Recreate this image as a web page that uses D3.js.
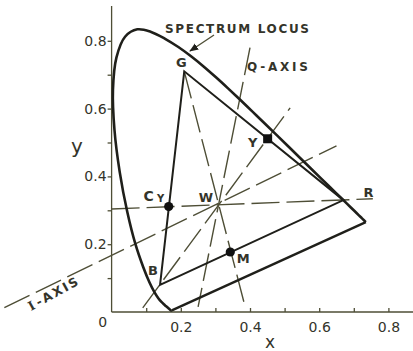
<!DOCTYPE html>
<html>
<head>
<meta charset="utf-8">
<script src="https://cdn.jsdelivr.net/npm/d3@7"></script>
<style>
  html, body { margin: 0; padding: 0; background: #fff; }
  svg { display: block; }
  text { font-family: "DejaVu Sans", sans-serif; fill: #34342a; }
</style>
</head>
<body>
<svg id="chart" width="413" height="351"></svg>
<script>
// CIE 1931 spectrum locus (chromaticity x, y), 380–700 nm
const locusX = [0.1741,0.1738,0.1733,0.1726,0.1714,0.1689,0.1644,0.1611,0.1566,0.1510,0.1440,0.1355,0.1241,0.1096,0.0913,0.0687,0.0454,0.0235,0.0082,0.0039,0.0139,0.0389,0.0743,0.1142,0.1547,0.1929,0.2296,0.2658,0.3016,0.3373,0.3731,0.4087,0.4441,0.4788,0.5125,0.5448,0.5752,0.6029,0.6270,0.6482,0.6658,0.6801,0.6915,0.7006,0.7079,0.7140,0.7190,0.7230,0.7260,0.7300,0.7347];
const locusY = [0.0050,0.0049,0.0048,0.0048,0.0051,0.0069,0.0109,0.0138,0.0177,0.0227,0.0297,0.0399,0.0578,0.0868,0.1327,0.2007,0.2950,0.4127,0.5384,0.6548,0.7502,0.8120,0.8338,0.8262,0.8059,0.7816,0.7543,0.7243,0.6923,0.6589,0.6245,0.5896,0.5547,0.5202,0.4866,0.4544,0.4242,0.3965,0.3725,0.3514,0.3340,0.3197,0.3083,0.2993,0.2920,0.2859,0.2809,0.2770,0.2740,0.2700,0.2653];

// NTSC primaries
const primaryNames = ["R", "G", "B"];
const primaryX = [0.67, 0.21, 0.14];
const primaryY = [0.33, 0.71, 0.08];

// Reference white (illuminant C)
const whiteX = 0.31;
const whiteY = 0.316;

// Complementary colours on the triangle sides
const secondaryNames = ["Y", "CY", "M"];
const secondaryX = [0.451, 0.165, 0.343];
const secondaryY = [0.511, 0.311, 0.177];

// Guide lines through white: [x, y] start and end
const guideNames = ["cyan-red", "green-magenta", "blue-yellow", "I", "Q"];
const guideStart = [[0.0, 0.304], [0.21, 0.71], [0.09, 0.012], [-0.31, 0.013], [0.40, 0.78]];
const guideEnd = [[0.755, 0.334], [0.383, 0.027], [0.516, 0.602], [0.65, 0.49], [0.25, 0.015]];

// Axis ticks
const tickValues = [0.1, 0.2, 0.3, 0.4, 0.5, 0.6, 0.7, 0.8];
const labelledTicks = [0.2, 0.4, 0.6, 0.8];

const svg = d3.select("#chart");
const x = d3.scaleLinear().domain([0, 1]).range([111.6, 457.6]);
const y = d3.scaleLinear().domain([0, 1]).range([312, -27]);

const ink = "#1f1f1a";
const olive = "#4e4e36";

// Axes
const fmt = d => labelledTicks.includes(Math.round(d * 10) / 10) ? d3.format(".1f")(d) : "";
const xAxis = svg.append("g").attr("transform", `translate(0,${y(0)})`)
  .call(d3.axisBottom(x).tickValues(tickValues).tickSize(-4).tickPadding(10).tickFormat(fmt));
xAxis.select(".domain").attr("d", `M${x(0)},0H413`);
const yAxis = svg.append("g").attr("transform", `translate(${x(0)},0)`)
  .call(d3.axisLeft(y).tickValues(tickValues).tickSize(4).tickPadding(1).tickFormat(fmt));
yAxis.select(".domain").attr("d", `M0,${y(0.903)}V${y(0)}`);
svg.selectAll(".domain, .tick line").attr("stroke", olive).attr("stroke-width", 1.3);
svg.selectAll(".tick text").attr("font-size", 14).attr("fill", "#44442e")
  .attr("font-family", "DejaVu Sans, sans-serif");
svg.append("text").attr("x", x(0) - 9).attr("y", y(0) + 15).attr("text-anchor", "middle")
  .attr("font-size", 14).attr("fill", "#44442e").text("0");

svg.append("text").attr("x", 77).attr("y", 153).attr("text-anchor", "middle")
  .attr("font-size", 20).text("y");
svg.append("text").attr("x", 270).attr("y", 348).attr("text-anchor", "middle")
  .attr("font-size", 17).text("x");

// Dashed guide lines
const line = d3.line().x(d => x(d[0])).y(d => y(d[1]));
guideNames.forEach((name, i) => {
  svg.append("path")
    .attr("d", line([guideStart[i], guideEnd[i]]))
    .attr("fill", "none").attr("stroke", olive).attr("stroke-width", 1.4)
    .attr("stroke-dasharray", "28,7");
});

// Spectrum locus with the purple boundary
const locus = locusX.map((v, i) => [v, locusY[i]]);
svg.append("path")
  .attr("d", d3.line().x(d => x(d[0])).y(d => y(d[1])).curve(d3.curveCatmullRom)(locus))
  .attr("fill", "none").attr("stroke", ink).attr("stroke-width", 2.6);
svg.append("path")
  .attr("d", line([locus[locus.length - 1], locus[0]]))
  .attr("fill", "none").attr("stroke", ink).attr("stroke-width", 2.4);

// Primary triangle
const tri = primaryX.map((v, i) => [v, primaryY[i]]);
svg.append("path")
  .attr("d", line(tri) + "Z")
  .attr("fill", "none").attr("stroke", ink).attr("stroke-width", 2).attr("stroke-linejoin", "miter");

// Markers
svg.append("rect")
  .attr("x", x(secondaryX[0]) - 4.5).attr("y", y(secondaryY[0]) - 4.5)
  .attr("width", 9).attr("height", 9).attr("fill", "#111");
[1, 2].forEach(i => {
  svg.append("circle").attr("cx", x(secondaryX[i])).attr("cy", y(secondaryY[i]))
    .attr("r", 4.6).attr("fill", "#111");
});

// Point labels
const lbl = (tx, ty, t, size) => svg.append("text").attr("x", tx).attr("y", ty)
  .attr("text-anchor", "middle").attr("dominant-baseline", "central")
  .attr("font-size", size || 13).attr("font-weight", "bold").text(t);
lbl(x(primaryX[1]) - 3, y(primaryY[1]) - 9, "G");
lbl(x(primaryX[0]) + 25, y(primaryY[0]) - 8, "R");
lbl(x(primaryX[2]) - 7, y(primaryY[2]) - 14, "B");
lbl(x(secondaryX[0]) - 15, y(secondaryY[0]) + 4, "Y");
lbl(x(secondaryX[1]) - 20, y(secondaryY[1]) - 11, "C", 14);
lbl(x(secondaryX[1]) - 8, y(secondaryY[1]) - 8, "Y", 10);
lbl(x(secondaryX[2]) + 13, y(secondaryY[2]) + 7, "M");
lbl(x(whiteX) - 13, y(whiteY) - 7, "W");

// Callouts
svg.append("text").attr("x", 165).attr("y", 33).attr("font-size", 12).attr("font-weight", "bold")
  .attr("textLength", 144).attr("lengthAdjust", "spacing").text("SPECTRUM LOCUS");
svg.append("defs").append("marker").attr("id", "arrow")
  .attr("viewBox", "0 0 10 10").attr("refX", 9).attr("refY", 5)
  .attr("markerWidth", 7).attr("markerHeight", 7).attr("orient", "auto")
  .append("path").attr("d", "M0,1L10,5L0,9Z").attr("fill", ink);
svg.append("line").attr("x1", 214).attr("y1", 35).attr("x2", 190).attr("y2", 51)
  .attr("stroke", olive).attr("stroke-width", 1.3).attr("marker-end", "url(#arrow)");

svg.append("text").attr("x", 247).attr("y", 71).attr("font-size", 12).attr("font-weight", "bold")
  .attr("textLength", 61).attr("lengthAdjust", "spacing").text("Q-AXIS");

const iLabel = svg.append("text").attr("transform", "translate(31,311) rotate(-29)")
  .attr("font-size", 12.5).attr("font-weight", "bold").attr("letter-spacing", 2);
iLabel.append("tspan").attr("font-family", "DejaVu Serif, serif").text("I");
iLabel.append("tspan").attr("dx", 1).text("-AXIS");
</script>
</body>
</html>
